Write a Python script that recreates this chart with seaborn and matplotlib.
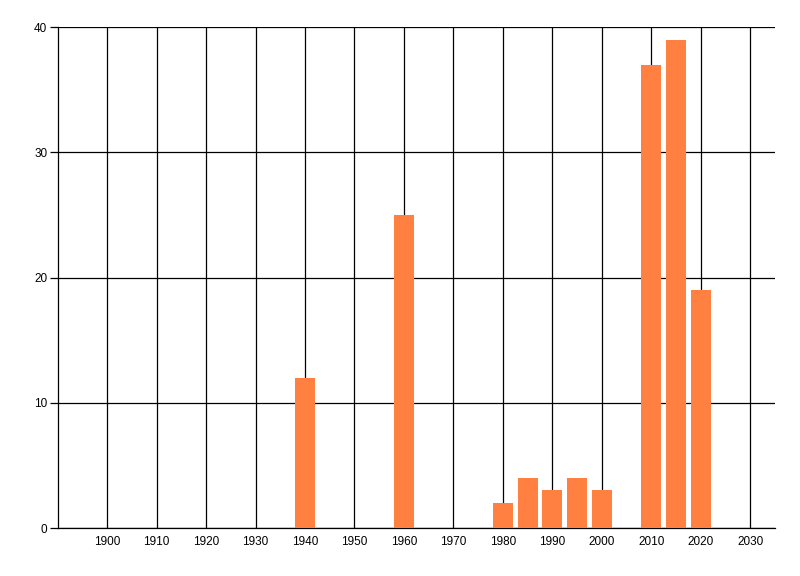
import matplotlib
matplotlib.use("Agg")
import matplotlib.pyplot as plt
import seaborn as sns
import pandas as pd

# Values
years = [1940, 1960, 1980, 1985, 1990, 1995, 2000, 2010, 2015, 2020]
counts = [12, 25, 2, 4, 3, 4, 3, 37, 39, 19]
x_ticks = [1900, 1910, 1920, 1930, 1940, 1950, 1960, 1970, 1980, 1990, 2000, 2010, 2020, 2030]
y_ticks = [0, 10, 20, 30, 40]

df = pd.DataFrame({"year": years, "count": counts})

sns.set_style("white")
plt.rcParams["font.family"] = ["Liberation Sans", "DejaVu Sans"]

fig = plt.figure(figsize=(8, 5.76), dpi=100)
ax = fig.add_axes([0.0721, 0.0833, 0.8966, 0.8697])

sns.barplot(data=df, x="year", y="count", native_scale=True, color="#FF8040",
            saturation=1, width=0.8, edgecolor="none", linewidth=0, ax=ax, zorder=3)

ax.set_xlim(1890, 2035)
ax.set_ylim(0, 40)
ax.set_xticks(x_ticks)
ax.set_xticklabels([str(t) for t in x_ticks])
ax.set_yticks(y_ticks)
ax.set_xlabel("")
ax.set_ylabel("")

ax.grid(True, color="black", linewidth=0.9, zorder=0)
ax.set_axisbelow(True)

for side in ["top", "right"]:
    ax.spines[side].set_visible(False)
for side in ["left", "bottom"]:
    ax.spines[side].set_color("black")
    ax.spines[side].set_linewidth(0.9)

ax.tick_params(axis="x", length=0, pad=5.5, labelsize=8.5, colors="black")
ax.tick_params(axis="y", length=6, width=0.9, pad=1.5, labelsize=8.5, colors="black", left=True)

fig.savefig("out.png", dpi=100)
